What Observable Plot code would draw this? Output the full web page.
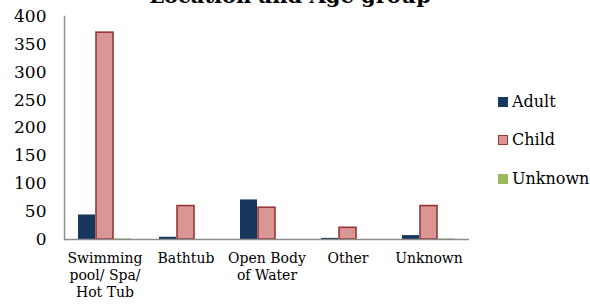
<!DOCTYPE html>
<html><head><meta charset="utf-8">
<script src="https://cdn.jsdelivr.net/npm/d3@7"></script>
<script src="https://cdn.jsdelivr.net/npm/@observablehq/plot@0.6"></script>
<style>
body{margin:0;background:#fff;}
#wrap{position:relative;width:590px;height:304px;overflow:hidden;font-family:"DejaVu Serif",serif;color:#000;}
#title{position:absolute;left:-10px;width:600px;text-align:center;top:-15px;font-weight:bold;font-size:21px;line-height:21px;white-space:nowrap;}
#chart{position:absolute;left:0;top:0;}
.lg{position:absolute;left:498px;font-size:16px;line-height:16px;white-space:nowrap;}
.sw{display:inline-block;width:10px;height:10px;box-sizing:border-box;margin-right:4px;vertical-align:0px;}
</style></head>
<body><div id="wrap"><div id="chart"></div><div id="title">Location and Age group</div></div>
<script>
const categories = ["Swimming pool/ Spa/ Hot Tub", "Bathtub", "Open Body of Water", "Other", "Unknown"];
const categoryLabels = ["Swimming\npool/ Spa/\nHot Tub", "Bathtub", "Open Body\nof Water", "Other", "Unknown"];
const series = ["Adult", "Child", "Unknown"];
const adult = [44, 4, 71, 2, 7];
const child = [371, 60, 57, 21, 60];
const unknown = [1, 0, 0, 0, 1];
const fills = ["#17375E", "#D99694", "#9BBB59"];
const strokes = ["none", "#953735", "none"];
const yTicks = [0, 50, 100, 150, 200, 250, 300, 350, 400];

const values = [adult, child, unknown];
const data = [];
categories.forEach((c, i) => series.forEach((s, j) => data.push({category: c, series: s, value: values[j][i]})));

const chart = Plot.plot({
  width: 590, height: 304,
  marginLeft: 64, marginRight: 121, marginTop: 16, marginBottom: 65,
  style: {fontFamily: "DejaVu Serif", fontSize: "14px", color: "#000", background: "transparent"},
  fx: {domain: categories, padding: 0, label: null, axis: null},
  x: {domain: series, paddingOuter: 0.75, paddingInner: 0.04, axis: null},
  y: {domain: [0, 400], axis: null},
  color: {domain: series, range: fills},
  marks: [
    Plot.barY(data, {fx: "category", x: "series", y: "value", fill: "series",
      stroke: d => strokes[series.indexOf(d.series)], strokeWidth: 1.6}),
    Plot.ruleY([0], {stroke: "#8c8c8c", strokeWidth: 1.5}),
    Plot.frame({anchor: "left", facetAnchor: "left", stroke: "#8c8c8c", strokeWidth: 1.5}),
    Plot.axisY({ticks: yTicks, tickSize: 0, tickPadding: 18, fontSize: 17, label: null, facetAnchor: "left"}),
    Plot.axisFx({anchor: "bottom", tickSize: 0, tickPadding: 11, label: null, fontSize: 14, lineHeight: 1.22,
      tickFormat: c => categoryLabels[categories.indexOf(c)]})
  ]
});
document.getElementById("chart").appendChild(chart);

const wrap = document.getElementById("wrap");
const legendTops = [94, 132, 171];
series.forEach((s, j) => {
  const d = document.createElement("div");
  d.className = "lg";
  d.style.top = legendTops[j] + "px";
  const sw = document.createElement("span");
  sw.className = "sw";
  sw.style.background = fills[j];
  if (strokes[j] !== "none") sw.style.border = "1.5px solid " + strokes[j];
  d.appendChild(sw);
  d.appendChild(document.createTextNode(s));
  wrap.appendChild(d);
});
</script></body></html>
